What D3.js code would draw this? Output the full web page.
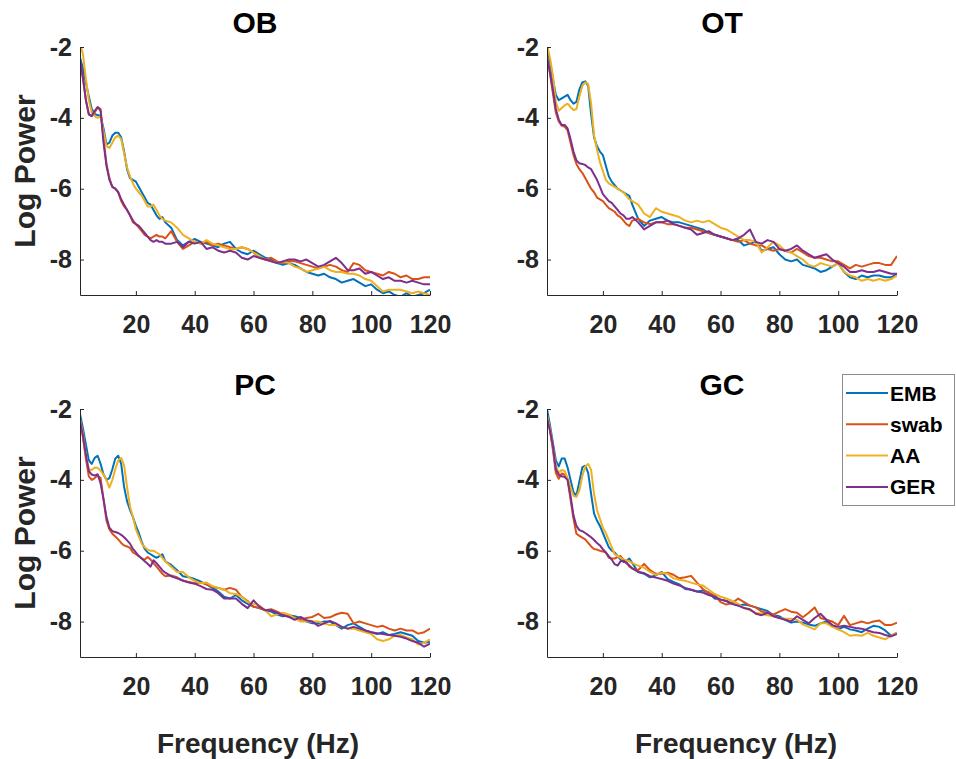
<!DOCTYPE html>
<html>
<head>
<meta charset="utf-8">
<script src="https://cdn.jsdelivr.net/npm/d3@7"></script>
<style>
  body { margin: 0; background: #fff; }
  text { font-family: "Liberation Sans", Arial, Helvetica, sans-serif; font-weight: bold; }
</style>
</head>
<body>
<script>
// frequency grid (Hz)
const freq = [1,2,3,4,5,6,7,8,9,10,11,12,13,14,15,
  16,17,18,19,20,21,22,23,24,25,26,27,28,29,30,
  32,34,36,38,40,42,44,46,48,50,52,54,56,58,60,
  62,64,66,68,70,72,74,76,78,80,82,84,86,88,90,
  92,94,96,98,100,102,104,106,108,110,112,114,116,118,120];

const seriesNames = ["EMB", "swab", "AA", "GER"];
const xTicks = [20, 40, 60, 80, 100, 120];
const yTicks = [-8, -6, -4, -2];

// OB
const obEMB = [-2.3,-2.6,-3.0,-3.4,-3.75,-3.9,-3.92,-3.95,-4.3,-4.75,-4.7,-4.5,-4.42,-4.42,-4.55,
  -4.95,-5.45,-5.7,-5.75,-5.8,-5.95,-6.1,-6.25,-6.4,-6.45,-6.6,-6.75,-6.85,-6.8,-6.95,
  -7.1,-7.45,-7.6,-7.5,-7.42,-7.5,-7.55,-7.6,-7.65,-7.55,-7.5,-7.7,-7.8,-7.85,-7.75,
  -7.85,-7.95,-8.0,-8.1,-8.15,-8.1,-8.15,-8.25,-8.35,-8.4,-8.45,-8.4,-8.5,-8.55,-8.65,
  -8.6,-8.55,-8.65,-8.75,-8.7,-8.85,-8.95,-8.9,-9.0,-9.05,-8.95,-9.05,-9.0,-8.95,-8.85];
const obSwab = [-2.45,-2.9,-3.5,-3.9,-3.95,-3.85,-3.7,-3.75,-4.6,-5.3,-5.7,-5.95,-6.0,-6.1,-6.35,
  -6.5,-6.6,-6.75,-6.95,-7.0,-7.1,-7.2,-7.3,-7.35,-7.4,-7.35,-7.3,-7.35,-7.35,-7.4,
  -7.2,-7.5,-7.7,-7.6,-7.5,-7.55,-7.5,-7.6,-7.55,-7.6,-7.65,-7.7,-7.65,-7.7,-7.8,
  -7.95,-8.0,-7.95,-8.05,-8.1,-8.05,-8.05,-8.1,-8.15,-8.2,-8.25,-8.2,-8.15,-8.2,-8.3,
  -8.35,-8.1,-8.15,-8.3,-8.35,-8.4,-8.45,-8.35,-8.4,-8.5,-8.45,-8.55,-8.55,-8.5,-8.5];
const obAA = [-1.9,-2.2,-2.9,-3.5,-3.85,-3.95,-4.0,-3.97,-4.4,-4.8,-4.85,-4.7,-4.55,-4.5,-4.6,
  -5.0,-5.4,-5.65,-5.85,-6.0,-6.1,-6.2,-6.35,-6.5,-6.5,-6.45,-6.6,-6.75,-6.85,-6.9,
  -6.95,-7.1,-7.3,-7.4,-7.5,-7.55,-7.45,-7.55,-7.6,-7.65,-7.7,-7.7,-7.65,-7.7,-7.8,
  -7.9,-8.0,-8.05,-8.1,-8.05,-8.1,-8.2,-8.25,-8.35,-8.3,-8.25,-8.2,-8.3,-8.35,-8.35,
  -8.4,-8.4,-8.45,-8.55,-8.6,-8.75,-8.9,-8.85,-8.85,-8.85,-8.9,-8.95,-8.9,-8.95,-9.0];
const obGER = [-2.35,-2.85,-3.5,-3.9,-3.95,-3.8,-3.7,-3.8,-4.7,-5.35,-5.75,-5.95,-6.0,-6.1,-6.3,
  -6.45,-6.6,-6.75,-6.9,-7.0,-7.05,-7.15,-7.25,-7.35,-7.45,-7.5,-7.45,-7.5,-7.5,-7.55,
  -7.55,-7.5,-7.65,-7.5,-7.55,-7.5,-7.7,-7.65,-7.75,-7.8,-7.75,-7.8,-7.95,-8.0,-7.9,
  -7.95,-8.0,-8.05,-8.1,-8.05,-8.0,-8.0,-8.05,-8.0,-8.1,-8.2,-8.15,-8.05,-7.95,-8.1,
  -8.3,-8.3,-8.25,-8.4,-8.35,-8.45,-8.55,-8.5,-8.6,-8.6,-8.65,-8.6,-8.65,-8.7,-8.7];

// OT
const otEMB = [-2.0,-2.4,-2.9,-3.35,-3.5,-3.45,-3.4,-3.35,-3.5,-3.6,-3.55,-3.2,-3.0,-2.97,-3.1,
  -3.9,-4.55,-4.8,-4.95,-5.05,-5.35,-5.65,-5.8,-5.9,-6.0,-6.05,-6.1,-6.15,-6.2,-6.45,
  -6.85,-7.05,-6.9,-6.85,-6.8,-6.9,-6.95,-6.95,-7.0,-7.05,-7.1,-7.15,-7.25,-7.3,-7.35,
  -7.4,-7.45,-7.45,-7.6,-7.55,-7.5,-7.75,-7.7,-7.65,-7.85,-8.0,-8.05,-8.0,-8.15,-8.2,
  -8.25,-8.35,-8.3,-8.2,-8.1,-8.35,-8.5,-8.55,-8.45,-8.5,-8.45,-8.45,-8.5,-8.5,-8.4];
const otSwab = [-2.25,-2.75,-3.3,-3.85,-4.1,-4.22,-4.25,-4.35,-4.7,-5.05,-5.3,-5.45,-5.55,-5.7,-5.85,
  -6.0,-6.1,-6.25,-6.3,-6.35,-6.45,-6.55,-6.6,-6.65,-6.75,-6.8,-6.9,-7.0,-7.05,-6.9,
  -6.85,-6.95,-7.0,-6.95,-6.95,-7.0,-7.0,-7.05,-7.1,-7.1,-7.15,-7.2,-7.25,-7.3,-7.35,
  -7.4,-7.45,-7.5,-7.45,-7.55,-7.6,-7.6,-7.7,-7.75,-7.7,-7.75,-7.8,-7.7,-7.8,-7.9,
  -7.95,-7.95,-8.0,-8.05,-8.05,-8.15,-8.25,-8.15,-8.2,-8.15,-8.1,-8.1,-8.15,-8.15,-7.9];
const otAA = [-1.95,-2.3,-2.8,-3.55,-3.8,-3.72,-3.65,-3.6,-3.7,-3.78,-3.75,-3.4,-3.1,-3.0,-3.05,
  -3.6,-4.5,-4.9,-5.25,-5.5,-5.75,-5.85,-5.9,-5.95,-6.0,-6.05,-6.1,-6.2,-6.3,-6.35,
  -6.45,-6.7,-6.8,-6.55,-6.65,-6.7,-6.75,-6.8,-6.9,-6.95,-6.9,-6.95,-6.9,-7.0,-7.1,
  -7.15,-7.25,-7.35,-7.45,-7.45,-7.5,-7.8,-7.65,-7.5,-7.6,-7.75,-7.8,-7.9,-8.0,-8.15,
  -8.2,-8.1,-8.15,-8.2,-8.1,-8.35,-8.45,-8.5,-8.6,-8.55,-8.6,-8.55,-8.6,-8.55,-8.45];
const otGER = [-2.3,-2.7,-3.2,-3.75,-4.05,-4.2,-4.2,-4.3,-4.6,-4.95,-5.2,-5.28,-5.3,-5.33,-5.4,
  -5.45,-5.6,-5.75,-5.95,-6.15,-6.25,-6.35,-6.4,-6.5,-6.6,-6.7,-6.75,-6.85,-6.85,-6.8,
  -6.95,-7.15,-7.05,-6.95,-6.95,-6.9,-7.0,-7.05,-7.1,-7.15,-7.3,-7.25,-7.2,-7.3,-7.35,
  -7.4,-7.45,-7.4,-7.3,-7.15,-7.5,-7.55,-7.45,-7.5,-7.7,-7.75,-7.7,-7.6,-7.75,-7.85,
  -7.95,-7.9,-7.85,-8.0,-8.1,-8.2,-8.35,-8.35,-8.3,-8.35,-8.35,-8.3,-8.35,-8.4,-8.4];

// PC
const pcEMB = [-2.14,-2.55,-3.0,-3.45,-3.55,-3.38,-3.32,-3.55,-3.85,-4.0,-3.95,-3.7,-3.4,-3.32,-3.55,
  -4.2,-4.6,-4.85,-5.05,-5.3,-5.5,-5.75,-5.95,-6.05,-6.1,-6.15,-6.2,-6.15,-6.1,-6.3,
  -6.4,-6.55,-6.72,-6.75,-6.8,-6.87,-6.95,-7.05,-7.15,-7.3,-7.35,-7.25,-7.4,-7.5,-7.58,
  -7.62,-7.68,-7.72,-7.8,-7.85,-7.82,-7.85,-7.9,-8.0,-8.05,-8.05,-8.0,-8.0,-8.1,-8.2,
  -8.1,-8.05,-8.15,-8.25,-8.3,-8.35,-8.3,-8.38,-8.35,-8.3,-8.35,-8.4,-8.55,-8.6,-8.57];
const pcSwab = [-2.33,-2.8,-3.4,-3.9,-4.0,-3.95,-3.88,-3.95,-4.55,-5.15,-5.4,-5.52,-5.6,-5.68,-5.78,
  -5.85,-5.88,-5.92,-6.05,-6.1,-6.15,-6.22,-6.25,-6.18,-6.25,-6.35,-6.45,-6.55,-6.65,-6.72,
  -6.7,-6.75,-6.85,-6.88,-6.92,-6.9,-6.95,-7.02,-7.05,-7.1,-7.05,-7.1,-7.3,-7.42,-7.58,
  -7.62,-7.68,-7.65,-7.72,-7.8,-7.85,-7.9,-7.95,-7.9,-7.87,-7.78,-7.9,-7.88,-7.8,-7.75,
  -7.78,-8.05,-8.0,-8.05,-8.1,-8.15,-8.12,-8.2,-8.25,-8.2,-8.25,-8.25,-8.34,-8.3,-8.2];
const pcAA = [-2.28,-2.7,-3.3,-3.7,-3.72,-3.65,-3.66,-3.74,-3.85,-4.0,-4.22,-4.0,-3.7,-3.45,-3.38,
  -3.6,-4.2,-4.75,-5.05,-5.4,-5.6,-5.8,-5.9,-5.97,-6.0,-6.0,-6.05,-6.1,-6.2,-6.3,
  -6.45,-6.6,-6.6,-6.75,-6.85,-6.92,-6.9,-7.0,-7.05,-7.1,-7.2,-7.22,-7.3,-7.45,-7.5,
  -7.55,-7.68,-7.85,-7.8,-7.75,-7.8,-7.9,-8.0,-8.0,-8.0,-8.0,-8.05,-8.1,-8.1,-8.15,
  -8.2,-8.2,-8.25,-8.3,-8.35,-8.5,-8.55,-8.5,-8.4,-8.38,-8.45,-8.5,-8.65,-8.6,-8.5];
const pcGER = [-2.33,-2.75,-3.3,-3.75,-3.85,-3.88,-3.84,-4.1,-4.55,-5.05,-5.35,-5.45,-5.47,-5.5,-5.55,
  -5.62,-5.71,-5.8,-5.95,-6.05,-6.15,-6.22,-6.3,-6.37,-6.45,-6.27,-6.35,-6.45,-6.55,-6.62,
  -6.72,-6.78,-6.84,-6.9,-6.93,-7.0,-7.08,-7.1,-7.2,-7.35,-7.35,-7.35,-7.5,-7.62,-7.4,
  -7.58,-7.68,-7.68,-7.75,-7.82,-7.87,-7.95,-7.87,-7.96,-8.0,-8.12,-8.05,-7.98,-8.05,-8.15,
  -8.2,-8.15,-8.2,-8.25,-8.3,-8.33,-8.35,-8.38,-8.4,-8.43,-8.48,-8.55,-8.6,-8.71,-8.62];

// GC
const gcEMB = [-2.0,-2.45,-2.95,-3.45,-3.62,-3.4,-3.4,-3.65,-4.0,-4.35,-4.45,-4.05,-3.65,-3.6,-3.8,
  -4.4,-4.95,-5.15,-5.3,-5.5,-5.7,-5.9,-6.0,-6.05,-6.15,-6.25,-6.32,-6.28,-6.22,-6.35,
  -6.6,-6.65,-6.75,-6.7,-6.6,-6.8,-6.88,-6.95,-7.08,-7.1,-7.15,-7.12,-7.18,-7.35,-7.38,
  -7.42,-7.5,-7.55,-7.52,-7.55,-7.6,-7.65,-7.7,-7.82,-7.85,-7.95,-8.03,-8.0,-8.03,-8.08,
  -8.12,-8.05,-8.0,-8.12,-8.22,-8.15,-8.22,-8.25,-8.3,-8.2,-8.12,-8.15,-8.25,-8.4,-8.31];
const gcSwab = [-2.21,-2.6,-3.15,-3.8,-3.97,-3.82,-3.85,-4.0,-4.55,-5.1,-5.52,-5.58,-5.63,-5.68,-5.78,
  -5.88,-5.95,-5.97,-6.0,-6.02,-6.05,-6.2,-6.22,-6.22,-6.18,-6.15,-6.25,-6.32,-6.45,-6.5,
  -6.55,-6.37,-6.55,-6.65,-6.65,-6.62,-6.68,-6.78,-6.75,-6.71,-6.9,-7.08,-7.2,-7.25,-7.45,
  -7.52,-7.48,-7.35,-7.45,-7.55,-7.6,-7.72,-7.75,-7.8,-7.72,-7.65,-7.72,-7.75,-7.88,-7.75,
  -7.6,-7.9,-7.95,-8.0,-8.1,-7.84,-8.1,-8.05,-8.0,-8.05,-8.0,-7.97,-8.1,-8.1,-8.03];
const gcAA = [-2.16,-2.55,-3.05,-3.6,-3.8,-3.72,-3.75,-3.95,-4.2,-4.45,-4.48,-4.3,-3.9,-3.62,-3.55,
  -3.72,-4.4,-4.85,-5.1,-5.35,-5.5,-5.7,-5.9,-6.1,-6.15,-6.2,-6.25,-6.27,-6.3,-6.35,
  -6.42,-6.48,-6.6,-6.68,-6.62,-6.65,-6.78,-6.82,-6.85,-6.9,-6.95,-6.98,-7.1,-7.22,-7.3,
  -7.35,-7.42,-7.5,-7.62,-7.68,-7.75,-7.78,-7.82,-7.85,-7.9,-7.92,-7.92,-7.95,-8.08,-8.15,
  -8.22,-8.05,-8.05,-8.15,-8.22,-8.3,-8.4,-8.38,-8.4,-8.32,-8.4,-8.45,-8.5,-8.4,-8.31];
const gcGER = [-2.25,-2.6,-3.05,-3.7,-3.85,-3.9,-3.92,-4.0,-4.45,-5.0,-5.3,-5.42,-5.45,-5.5,-5.56,
  -5.62,-5.7,-5.78,-5.85,-5.96,-6.05,-6.15,-6.25,-6.38,-6.42,-6.3,-6.28,-6.35,-6.42,-6.5,
  -6.6,-6.63,-6.72,-6.76,-6.8,-6.85,-6.93,-6.98,-7.05,-7.1,-7.15,-7.18,-7.25,-7.3,-7.38,
  -7.42,-7.5,-7.55,-7.62,-7.65,-7.78,-7.82,-7.75,-7.85,-7.9,-7.95,-8.0,-7.85,-7.95,-8.05,
  -7.9,-7.78,-7.95,-8.1,-8.15,-8.12,-8.15,-8.18,-8.2,-8.25,-8.3,-8.32,-8.38,-8.42,-8.35];

// MATLAB default colours
const colors = ["#0072BD", "#D95319", "#EDB120", "#7E2F8E"];
const axisColor = "#262626";

const panels = [
  { title: "OB", series: [obEMB, obSwab, obAA, obGER], left: 80, top: 47 },
  { title: "OT", series: [otEMB, otSwab, otAA, otGER], left: 547, top: 47 },
  { title: "PC", series: [pcEMB, pcSwab, pcAA, pcGER], left: 80, top: 409 },
  { title: "GC", series: [gcEMB, gcSwab, gcAA, gcGER], left: 547, top: 409 }
];
const pw = 350, ph = 248;

const svg = d3.select("body").append("svg")
  .attr("width", 956)
  .attr("height", 759);

panels.forEach(function (p, i) {
  const x = d3.scaleLinear().domain([1, 120]).range([p.left, p.left + pw]);
  const y = d3.scaleLinear().domain([-9, -2]).range([p.top + ph, p.top]);

  svg.append("clipPath").attr("id", "clip" + i)
    .append("rect")
    .attr("x", p.left).attr("y", p.top)
    .attr("width", pw).attr("height", ph);

  const line = d3.line()
    .x(function (d, j) { return x(freq[j]); })
    .y(function (d) { return y(d); });

  const g = svg.append("g").attr("clip-path", "url(#clip" + i + ")");
  p.series.forEach(function (s, k) {
    g.append("path")
      .datum(s)
      .attr("d", line)
      .attr("fill", "none")
      .attr("stroke", colors[k])
      .attr("stroke-width", 2)
      .attr("stroke-linejoin", "round");
  });

  // x axis
  const gx = svg.append("g")
    .attr("transform", "translate(0," + (p.top + ph) + ")")
    .call(d3.axisBottom(x).tickValues(xTicks).tickSizeInner(-4).tickSizeOuter(0).tickPadding(20));
  // y axis
  const gy = svg.append("g")
    .attr("transform", "translate(" + p.left + ",0)")
    .call(d3.axisLeft(y).tickValues(yTicks).tickSizeInner(-4).tickSizeOuter(0).tickPadding(8)
      .tickFormat(function (d) { return String(d); }));

  [gx, gy].forEach(function (a) {
    a.select(".domain").attr("stroke", axisColor);
    a.selectAll(".tick line").attr("stroke", axisColor);
    a.selectAll(".tick text")
      .attr("fill", axisColor)
      .style("font-size", "25px");
  });

  // panel title
  svg.append("text")
    .attr("x", p.left + pw / 2)
    .attr("y", p.top - 14)
    .attr("text-anchor", "middle")
    .style("font-size", "30px")
    .attr("fill", "#000")
    .text(p.title);

  // y label on the left column
  if (p.left < 300) {
    svg.append("text")
      .attr("text-anchor", "middle")
      .attr("transform", "translate(35," + (p.top + 124) + ")rotate(-90)")
      .style("font-size", "30px")
      .attr("fill", axisColor)
      .text("Log Power");
  }
});

// x labels
[258, 736].forEach(function (cx) {
  svg.append("text")
    .attr("x", cx)
    .attr("y", 753)
    .attr("text-anchor", "middle")
    .style("font-size", "28px")
    .attr("fill", axisColor)
    .text("Frequency (Hz)");
});

// legend
const legend = svg.append("g");
legend.append("rect")
  .attr("x", 842.5).attr("y", 374.5)
  .attr("width", 112).attr("height", 131)
  .attr("fill", "#fff")
  .attr("stroke", "#8c8c8c");
seriesNames.forEach(function (name, k) {
  const cy = 393 + k * 31.3;
  legend.append("line")
    .attr("x1", 846).attr("x2", 888)
    .attr("y1", cy).attr("y2", cy)
    .attr("stroke", colors[k])
    .attr("stroke-width", 2);
  legend.append("text")
    .attr("x", 890)
    .attr("y", cy)
    .attr("dy", "0.36em")
    .style("font-size", "21px")
    .attr("fill", "#000")
    .text(name);
});
</script>
</body>
</html>
